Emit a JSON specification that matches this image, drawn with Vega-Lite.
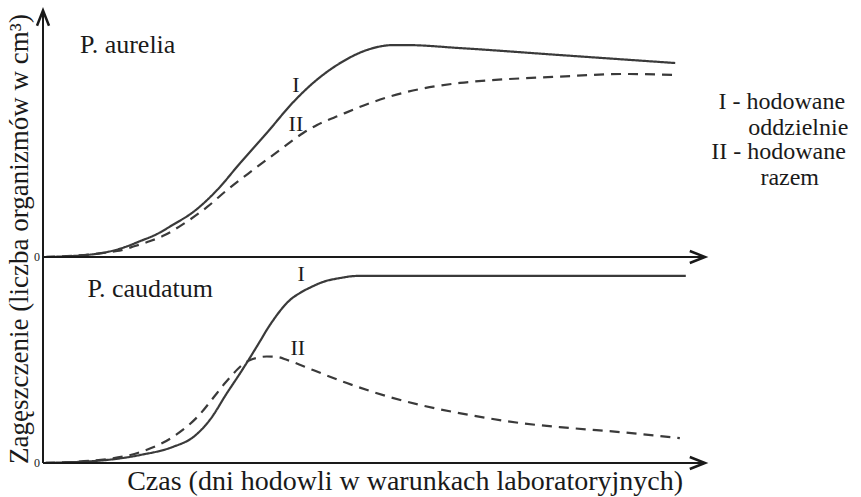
{
  "$schema": "https://vega.github.io/schema/vega-lite/v6.json",
  "width": 662,
  "height": 455,
  "autosize": {"type": "none"},
  "padding": {"left": 43, "top": 8, "right": 156, "bottom": 34},
  "background": "white",
  "config": {"view": {"stroke": null}, "font": "Liberation Serif, Times New Roman, DejaVu Serif, serif", "axis": {"grid": false}},
  "datasets": {
    "aurelia": [
      {"x": 0.3, "y": 0, "c": "I"}, {"x": 5.6, "y": 0.6, "c": "I"}, {"x": 9.7, "y": 2.0, "c": "I"}, {"x": 12.4, "y": 4.0, "c": "I"},
      {"x": 14.7, "y": 6.4, "c": "I"}, {"x": 17.2, "y": 9.2, "c": "I"}, {"x": 19.6, "y": 12.9, "c": "I"},
      {"x": 22.7, "y": 18.1, "c": "I"}, {"x": 26.3, "y": 26.9, "c": "I"}, {"x": 29.8, "y": 37.8, "c": "I"},
      {"x": 33.8, "y": 49.8, "c": "I"}, {"x": 37.8, "y": 62.2, "c": "I"}, {"x": 40.8, "y": 69.9, "c": "I"}, {"x": 44.9, "y": 77.9, "c": "I"},
      {"x": 48.9, "y": 83.1, "c": "I"}, {"x": 52.9, "y": 85.1, "c": "I"}, {"x": 55.0, "y": 85.1, "c": "I"}, {"x": 63.0, "y": 83.9, "c": "I"},
      {"x": 78.1, "y": 81.1, "c": "I"}, {"x": 95.5, "y": 77.9, "c": "I"},
      {"x": 0.3, "y": 0, "c": "II"}, {"x": 11.2, "y": 2.4, "c": "II"}, {"x": 13.9, "y": 4.4, "c": "II"}, {"x": 16.2, "y": 6.4, "c": "II"},
      {"x": 18.4, "y": 8.8, "c": "II"}, {"x": 20.7, "y": 12.4, "c": "II"},
      {"x": 24.8, "y": 20.1, "c": "II"}, {"x": 27.8, "y": 26.9, "c": "II"}, {"x": 31.7, "y": 34.9, "c": "II"}, {"x": 35.8, "y": 43.0, "c": "II"},
      {"x": 39.3, "y": 49.8, "c": "II"}, {"x": 41.4, "y": 53.0, "c": "II"}, {"x": 44.9, "y": 57.0, "c": "II"}, {"x": 49.8, "y": 62.2, "c": "II"},
      {"x": 55.0, "y": 66.3, "c": "II"}, {"x": 63.0, "y": 69.9, "c": "II"}, {"x": 67.1, "y": 70.9, "c": "II"}, {"x": 77.0, "y": 72.3, "c": "II"},
      {"x": 88.2, "y": 73.5, "c": "II"}, {"x": 95.5, "y": 73.1, "c": "II"}
    ],
    "caudatum": [
      {"x": 0.3, "y": 0, "c": "I"}, {"x": 9.7, "y": 1.5, "c": "I"}, {"x": 14.7, "y": 3.9, "c": "I"}, {"x": 19.6, "y": 7.8, "c": "I"},
      {"x": 22.7, "y": 12.6, "c": "I"}, {"x": 25.2, "y": 20.9, "c": "I"}, {"x": 27.8, "y": 34.0, "c": "I"}, {"x": 29.8, "y": 43.7, "c": "I"},
      {"x": 31.7, "y": 53.4, "c": "I"}, {"x": 32.8, "y": 59.2, "c": "I"}, {"x": 33.8, "y": 64.6, "c": "I"}, {"x": 34.9, "y": 69.9, "c": "I"},
      {"x": 35.8, "y": 73.8, "c": "I"}, {"x": 37.3, "y": 79.1, "c": "I"}, {"x": 38.8, "y": 82.5, "c": "I"}, {"x": 40.5, "y": 85.4, "c": "I"},
      {"x": 42.3, "y": 87.9, "c": "I"}, {"x": 44.9, "y": 89.8, "c": "I"}, {"x": 47.4, "y": 90.8, "c": "I"}, {"x": 63.0, "y": 90.8, "c": "I"},
      {"x": 97.1, "y": 90.8, "c": "I"},
      {"x": 0.3, "y": 0, "c": "II"}, {"x": 9.7, "y": 1.9, "c": "II"}, {"x": 14.7, "y": 5.3, "c": "II"}, {"x": 19.6, "y": 12.6, "c": "II"},
      {"x": 23.3, "y": 22.3, "c": "II"}, {"x": 26.3, "y": 34.0, "c": "II"}, {"x": 27.5, "y": 38.8, "c": "II"}, {"x": 28.7, "y": 43.2, "c": "II"},
      {"x": 29.9, "y": 47.1, "c": "II"}, {"x": 31.3, "y": 50.0, "c": "II"}, {"x": 32.5, "y": 51.2, "c": "II"}, {"x": 33.8, "y": 51.7, "c": "II"},
      {"x": 35.3, "y": 51.5, "c": "II"}, {"x": 36.9, "y": 50.0, "c": "II"}, {"x": 40.8, "y": 45.1, "c": "II"}, {"x": 45.9, "y": 38.8, "c": "II"},
      {"x": 52.4, "y": 32.0, "c": "II"}, {"x": 56.9, "y": 28.2, "c": "II"}, {"x": 64.5, "y": 23.3, "c": "II"}, {"x": 72.1, "y": 19.4, "c": "II"},
      {"x": 79.6, "y": 17.0, "c": "II"}, {"x": 87.2, "y": 15.0, "c": "II"}, {"x": 96.2, "y": 12.1, "c": "II"}
    ],
    "topTitles": [
      {"t": "P. aurelia", "x": 12.8, "y": 81.9}
    ],
    "legendText": [
      {"t": "I - hodowane", "x": 111.6, "y": 59.4},
      {"t": "oddzielnie", "x": 114.1, "y": 49.0},
      {"t": "II - hodowane", "x": 111.1, "y": 39.2},
      {"t": "razem", "x": 112.8, "y": 28.9}
    ],
    "topCurveLabels": [
      {"t": "I", "x": 38.2, "y": 66.3},
      {"t": "II", "x": 38.2, "y": 50.6}
    ],
    "bottomTitles": [
      {"t": "P. caudatum", "x": 16.2, "y": 80.6}
    ],
    "bottomCurveLabels": [
      {"t": "I", "x": 39.0, "y": 88.3},
      {"t": "II", "x": 38.5, "y": 52.4}
    ],
    "yTitle": [{"t": "Zagęszczenie (liczba organizmów w cm³)", "x": -3.5, "y": 7.2}],
    "xTitle": [{"t": "Czas (dni hodowli w warunkach  laboratoryjnych)", "x": 54.7, "y": -13.1}]
  },
  "resolve": {"scale": {"y": "independent"}},
  "layer": [
    {
      "layer": [
        {
          "data": {"name": "aurelia"},
          "mark": {"type": "line", "interpolate": "monotone", "color": "#3a3a3a", "strokeWidth": 2.2},
          "encoding": {
            "x": {"field": "x", "type": "quantitative", "scale": {"domain": [0, 100]}, "axis": null},
            "y": {"field": "y", "type": "quantitative", "scale": {"domain": [0, 100], "range": [249, 0]}, "axis": null},
            "strokeDash": {"field": "c", "type": "nominal", "scale": {"domain": ["I", "II"], "range": [[1, 0], [10, 7]]}, "legend": null}
          }
        },
        {
          "data": {"values": [{}]},
          "mark": {"type": "rule", "color": "#1a1a1a", "strokeWidth": 2},
          "encoding": {"y": {"datum": 0, "type": "quantitative", "axis": null}}
        },
        {
          "data": {"values": [{}]},
          "mark": {"type": "rule", "color": "#1a1a1a", "strokeWidth": 2},
          "encoding": {"x": {"datum": 0, "type": "quantitative", "axis": null}, "y": {"datum": 0, "type": "quantitative", "axis": null}, "y2": {"datum": 99}}
        },
        {
          "data": {"values": [{}]},
          "mark": {"type": "point", "shape": "M -1.9 -0.75 L 0 0 L -1.9 0.75", "size": 256, "filled": false, "stroke": "#1a1a1a", "strokeWidth": 2.5, "opacity": 1},
          "encoding": {"x": {"datum": 100, "type": "quantitative", "axis": null}, "y": {"datum": 0, "type": "quantitative", "axis": null}}
        },
        {
          "data": {"values": [{}]},
          "mark": {"type": "point", "shape": "M -0.75 1.9 L 0 0 L 0.75 1.9", "size": 256, "filled": false, "stroke": "#1a1a1a", "strokeWidth": 2.5, "opacity": 1},
          "encoding": {"x": {"datum": 0, "type": "quantitative", "axis": null}, "y": {"datum": 99, "type": "quantitative", "axis": null}}
        },
        {
          "data": {"values": [{"t": "0"}]},
          "mark": {"type": "text", "fontSize": 12, "align": "right", "baseline": "middle", "dx": -3, "color": "#1a1a1a"},
          "encoding": {"x": {"datum": 0, "type": "quantitative", "axis": null}, "y": {"datum": 0, "type": "quantitative", "axis": null}, "text": {"field": "t"}}
        },
        {
          "data": {"name": "yTitle"},
          "mark": {"type": "text", "fontSize": 27, "align": "center", "baseline": "middle", "angle": 270, "color": "#1a1a1a"},
          "encoding": {"x": {"field": "x", "type": "quantitative", "axis": null}, "y": {"field": "y", "type": "quantitative", "axis": null}, "text": {"field": "t"}}
        },
        {
          "data": {"name": "topTitles"},
          "mark": {"type": "text", "fontSize": 26, "align": "center", "baseline": "alphabetic", "color": "#1a1a1a"},
          "encoding": {"x": {"field": "x", "type": "quantitative", "axis": null}, "y": {"field": "y", "type": "quantitative", "axis": null}, "text": {"field": "t"}}
        },
        {
          "data": {"name": "legendText"},
          "mark": {"type": "text", "fontSize": 24, "align": "center", "baseline": "alphabetic", "color": "#1a1a1a"},
          "encoding": {"x": {"field": "x", "type": "quantitative", "axis": null}, "y": {"field": "y", "type": "quantitative", "axis": null}, "text": {"field": "t"}}
        },
        {
          "data": {"name": "topCurveLabels"},
          "mark": {"type": "text", "fontSize": 22, "align": "center", "baseline": "alphabetic", "color": "#1a1a1a"},
          "encoding": {"x": {"field": "x", "type": "quantitative", "axis": null}, "y": {"field": "y", "type": "quantitative", "axis": null}, "text": {"field": "t"}}
        }
      ]
    },
    {
      "layer": [
        {
          "data": {"name": "caudatum"},
          "mark": {"type": "line", "interpolate": "monotone", "color": "#3a3a3a", "strokeWidth": 2.2},
          "encoding": {
            "x": {"field": "x", "type": "quantitative", "axis": null},
            "y": {"field": "y", "type": "quantitative", "scale": {"domain": [0, 100], "range": [455, 249]}, "axis": null},
            "strokeDash": {"field": "c", "type": "nominal", "scale": {"domain": ["I", "II"], "range": [[1, 0], [10, 7]]}, "legend": null}
          }
        },
        {
          "data": {"values": [{}]},
          "mark": {"type": "rule", "color": "#1a1a1a", "strokeWidth": 2},
          "encoding": {"y": {"datum": 0, "type": "quantitative", "axis": null}}
        },
        {
          "data": {"values": [{}]},
          "mark": {"type": "rule", "color": "#1a1a1a", "strokeWidth": 2},
          "encoding": {"x": {"datum": 0, "type": "quantitative", "axis": null}, "y": {"datum": 0, "type": "quantitative", "axis": null}, "y2": {"datum": 100}}
        },
        {
          "data": {"values": [{}]},
          "mark": {"type": "point", "shape": "M -1.9 -0.75 L 0 0 L -1.9 0.75", "size": 256, "filled": false, "stroke": "#1a1a1a", "strokeWidth": 2.5, "opacity": 1},
          "encoding": {"x": {"datum": 100, "type": "quantitative", "axis": null}, "y": {"datum": 0, "type": "quantitative", "axis": null}}
        },
        {
          "data": {"values": [{"t": "0"}]},
          "mark": {"type": "text", "fontSize": 12, "align": "right", "baseline": "middle", "dx": -3, "color": "#1a1a1a"},
          "encoding": {"x": {"datum": 0, "type": "quantitative", "axis": null}, "y": {"datum": 0, "type": "quantitative", "axis": null}, "text": {"field": "t"}}
        },
        {
          "data": {"name": "xTitle"},
          "mark": {"type": "text", "fontSize": 28, "align": "center", "baseline": "alphabetic", "color": "#1a1a1a"},
          "encoding": {"x": {"field": "x", "type": "quantitative", "axis": null}, "y": {"field": "y", "type": "quantitative", "axis": null}, "text": {"field": "t"}}
        },
        {
          "data": {"name": "bottomTitles"},
          "mark": {"type": "text", "fontSize": 26, "align": "center", "baseline": "alphabetic", "color": "#1a1a1a"},
          "encoding": {"x": {"field": "x", "type": "quantitative", "axis": null}, "y": {"field": "y", "type": "quantitative", "axis": null}, "text": {"field": "t"}}
        },
        {
          "data": {"name": "bottomCurveLabels"},
          "mark": {"type": "text", "fontSize": 22, "align": "center", "baseline": "alphabetic", "color": "#1a1a1a"},
          "encoding": {"x": {"field": "x", "type": "quantitative", "axis": null}, "y": {"field": "y", "type": "quantitative", "axis": null}, "text": {"field": "t"}}
        }
      ]
    }
  ]
}
